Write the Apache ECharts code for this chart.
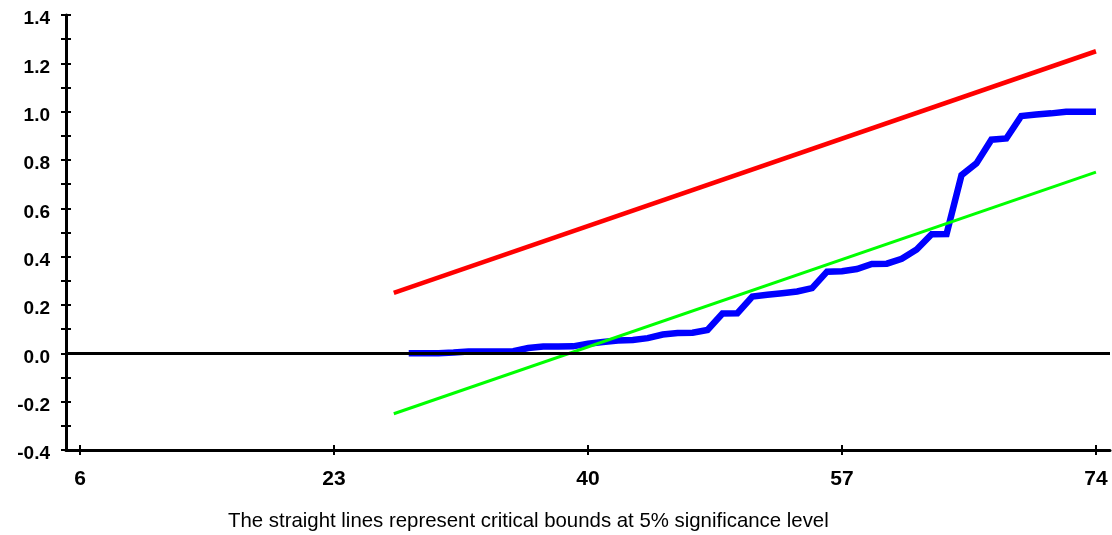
<!DOCTYPE html>
<html>
<head>
<meta charset="utf-8">
<script src="https://cdn.jsdelivr.net/npm/echarts@6/dist/echarts.min.js"></script>
<style>html,body{margin:0;padding:0;background:#fff}#c{width:1112px;height:535px}</style>
</head>
<body>
<div id="c"></div>
<script>
var xTicks = [6, 23, 40, 57, 74];
var yTickLabels = ['-0.4','-0.2','0.0','0.2','0.4','0.6','0.8','1.0','1.2','1.4'];
var cusumX = [28,29,30,31,32,33,34,35,36,37,38,39,40,41,42,43,44,45,46,47,48,49,50,51,52,53,54,55,56,57,58,59,60,61,62,63,64,65,66,67,68,69,70,71,72,73,74];
var cusumY = [0.0,0.0,0.0,0.003,0.008,0.008,0.008,0.009,0.022,0.028,0.028,0.029,0.040,0.047,0.053,0.055,0.063,0.078,0.084,0.085,0.097,0.165,0.166,0.235,0.242,0.249,0.256,0.270,0.338,0.340,0.349,0.370,0.371,0.391,0.430,0.493,0.494,0.737,0.786,0.884,0.889,0.982,0.988,0.993,1.0,1.0,1.0];
var boundX = [27, 74];
var upperY = [0.25, 1.25];
var lowerY = [-0.25, 0.75];
var subtitle = 'The straight lines represent critical bounds at 5% significance level';

function pairs(xs, ys){ return xs.map(function(x,i){ return [x, ys[i]]; }); }

var chart = echarts.init(document.getElementById('c'));
var font = '"Liberation Sans", Arial, sans-serif';
var xBase = {
  type: 'value', min: 5.06, max: 74.94, gridIndex: 0,
  splitLine: {show: false}
};
var yBase = {
  type: 'value', min: -0.4, max: 1.4, interval: 0.2,
  splitLine: {show: false}
};
chart.setOption({
  animation: false,
  backgroundColor: '#fff',
  textStyle: {fontFamily: font},
  title: {
    text: subtitle, left: 228, top: 511, padding: 0,
    textStyle: {fontFamily: font, fontWeight: 'normal', fontSize: 20.4, color: '#000'}
  },
  grid: {left: 66, right: 2, top: 15, bottom: 85, containLabel: false},
  xAxis: [
    Object.assign({}, xBase, {
      axisLine: {show: true, onZero: false, lineStyle: {color: '#000', width: 3}},
      axisTick: {show: true, customValues: xTicks, length: 5, lineStyle: {color: '#000', width: 2}},
      axisLabel: {show: true, customValues: xTicks, margin: 19, color: '#000', fontWeight: 'bold', fontSize: 21, fontFamily: font}
    }),
    Object.assign({}, xBase, {
      position: 'bottom',
      axisLine: {show: false, onZero: false},
      axisTick: {show: true, inside: true, customValues: xTicks, length: 5, lineStyle: {color: '#000', width: 2}},
      axisLabel: {show: false}
    })
  ],
  yAxis: [
    Object.assign({}, yBase, {
      axisLine: {show: true, onZero: false, lineStyle: {color: '#000', width: 3}},
      axisTick: {show: true, length: 5, lineStyle: {color: '#000', width: 2}},
      minorTick: {show: true, splitNumber: 2, length: 5, lineStyle: {color: '#000', width: 2}},
      axisLabel: {show: true, margin: 16, color: '#000', fontWeight: 'bold', fontSize: 19, fontFamily: font,
        formatter: function(v){ var i = Math.round((v + 0.4) / 0.2); return '{a|' + yTickLabels[i] + '}'; },
        rich: {a: {fontFamily: font, fontWeight: 'bold', fontSize: 19, color: '#000', padding: [8, 0, 0, 0]}}
      }
    }),
    Object.assign({}, yBase, {
      position: 'left',
      axisLine: {show: false, onZero: false},
      axisTick: {show: true, inside: true, length: 5, lineStyle: {color: '#000', width: 2}},
      minorTick: {show: true, splitNumber: 2, length: 5, lineStyle: {color: '#000', width: 2}},
      axisLabel: {show: false}
    })
  ],
  series: [
    {
      type: 'line', name: 'CUSUM of Squares', data: pairs(cusumX, cusumY), z: 2,
      showSymbol: false, symbol: 'none',
      lineStyle: {color: '#0000ff', width: 6.5, cap: 'butt', join: 'miter'}
    },
    {
      type: 'line', name: 'zero', data: [], z: 3, symbol: 'none',
      markLine: {
        silent: true, symbol: 'none', label: {show: false},
        lineStyle: {color: '#000', width: 3, type: 'solid'},
        data: [{yAxis: 0}]
      }
    },
    {
      type: 'line', name: 'Upper 5%', data: pairs(boundX, upperY), z: 4,
      symbol: 'none', lineStyle: {color: '#ff0000', width: 4.5}
    },
    {
      type: 'line', name: 'Lower 5%', data: pairs(boundX, lowerY), z: 4,
      symbol: 'none', lineStyle: {color: '#00ff00', width: 3}
    }
  ]
});
</script>
</body>
</html>
